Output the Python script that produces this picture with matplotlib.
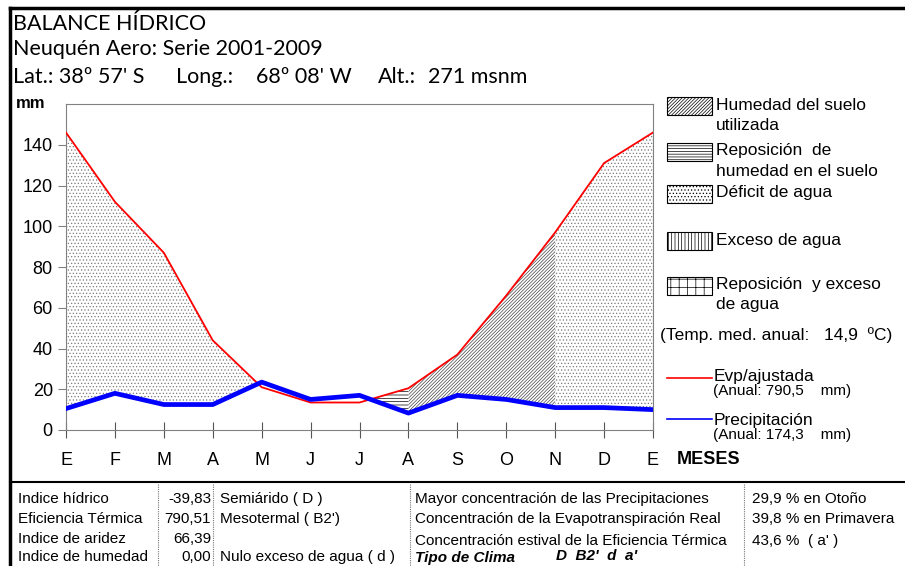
import matplotlib
matplotlib.use("Agg")
import matplotlib.pyplot as plt
from matplotlib.patches import Rectangle
import numpy as np

plt.rcParams['font.family'] = ['Liberation Sans', 'DejaVu Sans']
plt.rcParams['hatch.linewidth'] = 0.5

# months E..E (13 points, January repeated at the end)
meses = ['E', 'F', 'M', 'A', 'M', 'J', 'J', 'A', 'S', 'O', 'N', 'D', 'E']
evp = [146, 112, 87, 44, 21, 13.5, 13.5, 20.5, 37, 66, 97, 131, 146]
precip = [10.5, 18, 12.5, 12.5, 23.5, 15, 17, 8.3, 17, 15, 11, 11, 10]

yticks = [0, 20, 40, 60, 80, 100, 120, 140]

tabla_nombres = ['Indice hídrico', 'Eficiencia Térmica', 'Indice de aridez', 'Indice de humedad']
tabla_valores = ['-39,83', '790,51', '66,39', '0,00']
tabla_clases = ['Semiárido ( D )', "Mesotermal ( B2')", '', 'Nulo exceso de agua ( d )']
tabla_conc = ['Mayor concentración de las Precipitaciones',
              'Concentración de la Evapotranspiración Real',
              'Concentración estival de la Eficiencia Térmica']
tabla_pct = ['29,9 % en Otoño', '39,8 % en Primavera', "43,6 %  ( a' )"]

W, H = 905, 566
fig = plt.figure(figsize=(W / 100, H / 100), dpi=100)

# overlay in pixel coordinates for frame, titles, legend and table
ov = fig.add_axes([0, 0, 1, 1])
ov.set_xlim(0, W)
ov.set_ylim(H, 0)
ov.axis('off')

# frame
ov.plot([10, 10], [8, H], color='black', lw=2.5)
ov.plot([10, W], [8, 8], color='black', lw=2.5)
ov.plot([10, W], [482, 482], color='black', lw=1.5)

# titles (Calibri-like)
tfont = dict(family=['Lato', 'DejaVu Sans'], fontsize=15.5, va='center')
ov.text(13, 24, 'BALANCE HÍDRICO', **tfont)
ov.text(13, 49, 'Neuquén Aero: Serie 2001-2009', **tfont)
ov.text(13, 77, "Lat.: 38º 57' S", **tfont)
ov.text(176, 77, 'Long.:', **tfont)
ov.text(256, 77, "68º 08' W", **tfont)
ov.text(378, 77, 'Alt.:', **tfont)
ov.text(428, 77, '271 msnm', **tfont)

# main chart
ax = fig.add_axes([66 / W, (H - 430) / H, (653 - 66) / W, (430 - 104) / H])
ax.patch.set_alpha(0)
x = np.arange(len(meses))
e = np.array(evp)
p = np.array(precip)

# water deficit (stippled)
for sl in (slice(0, 5), slice(10, 13)):
    ax.fill_between(x[sl], p[sl], e[sl], where=e[sl] >= p[sl], interpolate=True,
                    facecolor='white', edgecolor='#7a7a7a', hatch='.....', linewidth=0)
# soil moisture recharge (horizontal)
sl = slice(6, 8)
ax.fill_between(x[sl], p[sl], e[sl], where=e[sl] >= p[sl], interpolate=True,
                facecolor='white', edgecolor='black', hatch='-----', linewidth=0)
# soil moisture used (diagonal)
sl = slice(7, 11)
ax.fill_between(x[sl], p[sl], e[sl], facecolor='white', edgecolor='#444444',
                hatch='/' * 10, linewidth=0)

ax.plot(x, e, color='#ff0000', lw=1.3, zorder=3)
ax.plot(x, p, color='#0000ff', lw=3.4, zorder=4)

ax.set_xlim(0, len(meses) - 1)
ax.set_ylim(0, 160)
ax.set_yticks(yticks)
ax.set_xticks(x)
ax.set_xticklabels(meses)
for s in ax.spines.values():
    s.set_color('#808080')
ax.tick_params(axis='y', direction='out', length=6, color='#808080', labelsize=13)
ax.tick_params(axis='x', direction='inout', length=12, color='#555555', labelsize=13, pad=10)
ax.text(-0.035, 160, 'mm', ha='right', va='center', fontsize=12, fontweight='bold',
        transform=ax.get_yaxis_transform())
ov.text(677, 460, 'MESES', fontsize=13, fontweight='bold', va='center')

# legend
lfont = dict(fontsize=12.5, va='center')
boxes = [(97, '/' * 10, ['Humedad del suelo', 'utilizada']),
         (143, '------', ['Reposición  de', 'humedad en el suelo']),
         (185, '.....', ['Déficit de agua']),
         (232, '|||||', ['Exceso de agua']),
         (277, '++', ['Reposición  y exceso', 'de agua'])]
for y0, hat, lines in boxes:
    ov.add_patch(Rectangle((667, y0), 45, 18, facecolor='white', edgecolor='black',
                           lw=0.8, hatch=hat))
    for i, t in enumerate(lines):
        ov.text(716, y0 + 8 + 20 * i, t, **lfont)
ov.text(660, 335, '(Temp. med. anual:   14,9  ºC)', **lfont)
ov.plot([667, 712], [378, 378], color='#ff0000', lw=1.2)
ov.text(714, 376, 'Evp/ajustada', **lfont)
ov.text(713, 391, '(Anual: 790,5    mm)', fontsize=11, va='center')
ov.plot([667, 712], [419, 419], color='#0000ff', lw=1.2)
ov.text(714, 420, 'Precipitación', **lfont)
ov.text(713, 435, '(Anual: 174,3    mm)', fontsize=11, va='center')

# table
for xv in (158, 213, 410, 744):
    ov.plot([xv, xv], [484, H], color='#777777', lw=0.8, ls=(0, (1, 1)))
rows = [499, 519, 539, 557]
tf = dict(fontsize=11, va='center')
for i, y in enumerate(rows):
    ov.text(18, y, tabla_nombres[i], **tf)
    ov.text(211, y, tabla_valores[i], ha='right', **tf)
    ov.text(220, y, tabla_clases[i], **tf)
for i in range(3):
    ov.text(415, rows[i] + (2 if i == 2 else 0), tabla_conc[i], **tf)
    ov.text(752, rows[i] + (2 if i == 2 else 0), tabla_pct[i], **tf)
ov.text(415, 558, 'Tipo de Clima', fontsize=11, fontweight='bold', style='italic', va='center')
ov.text(556, 556, "D  B2'  d  a'", fontsize=11, fontweight='bold', style='italic', va='center')

fig.savefig('out.png', dpi=100)
